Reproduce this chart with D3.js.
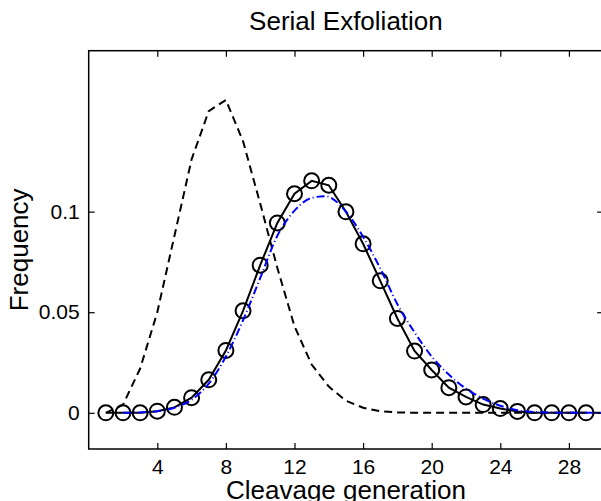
<!DOCTYPE html>
<html>
<head>
<meta charset="utf-8">
<script src="https://cdn.jsdelivr.net/npm/d3@7"></script>
<style>
  body { margin: 0; background: #fff; }
  svg { display: block; }
  text { font-family: "Liberation Sans", Arial, Helvetica, sans-serif; fill: #000; }
</style>
</head>
<body>
<svg id="chart" width="601" height="501"></svg>
<script>
// generations with a measured frequency (circles, solid line)
const generations = d3.range(1, 30);
const serialFreq = [0, 0, 0, 0.0008, 0.0027, 0.0075, 0.0164, 0.031, 0.0507, 0.0734,
                    0.0944, 0.1089, 0.1153, 0.1131, 0.0999, 0.084, 0.0656, 0.0469, 0.0307, 0.0213,
                    0.0125, 0.0079, 0.0041, 0.0021, 0.0007, 0, 0, 0, 0];

// dashed black curve
const dashedGen = d3.range(1, 31);
const dashedFreq = [0, 0.004, 0.022, 0.05, 0.088, 0.126, 0.15, 0.1555, 0.135, 0.104,
                    0.072, 0.043, 0.024, 0.013, 0.006, 0.0025, 0.0008, 0.0002, 0, 0,
                    0, 0, 0, 0, 0, 0, 0, 0, 0, 0];

// blue dash-dot fit
const fitGen =  [2, 3, 4, 5, 6, 7, 8, 9, 10, 11, 12, 13, 13.8, 15, 16, 17, 18, 19, 20,
                 21, 22, 23, 24, 25, 26, 27, 28, 30];
const fitFreq = [0, 0.0002, 0.0008, 0.0025, 0.0065, 0.0145, 0.028, 0.046, 0.067, 0.088,
                 0.1005, 0.1068, 0.1077, 0.1, 0.0875, 0.0718, 0.054, 0.04, 0.028,
                 0.019, 0.012, 0.007, 0.0035, 0.0013, 0.0004, 0.0001, 0, 0];

const xTicks = [4, 8, 12, 16, 20, 24, 28];
const yTicks = [0, 0.05, 0.1];

const svg = d3.select("#chart");
const plotLeft = 88.7, plotRight = 603.2, plotTop = 50.7, plotBottom = 449;

const x = d3.scaleLinear().domain([0, 30]).range([plotLeft, plotRight]);
const y = d3.scaleLinear().domain([-0.018, 0.18]).range([plotBottom, plotTop]);

// ticks point inward on all four sides, like matlab
const styleAxis = (g) => {
    g.select(".domain").remove();
    g.selectAll(".tick line").attr("stroke", "#000").attr("stroke-width", 1.2);
    g.selectAll(".tick text").style("font-size", "21px");
};

svg.append("g").attr("transform", `translate(0,${plotBottom})`)
    .call(d3.axisBottom(x).tickValues(xTicks).tickFormat(d3.format("d")).tickSizeInner(-6).tickSizeOuter(0).tickPadding(10))
    .call(styleAxis);
svg.append("g").attr("transform", `translate(0,${plotTop})`)
    .call(d3.axisTop(x).tickValues(xTicks).tickFormat("").tickSizeInner(-6).tickSizeOuter(0))
    .call(styleAxis);
svg.append("g").attr("transform", `translate(${plotLeft},0)`)
    .call(d3.axisLeft(y).tickValues(yTicks).tickFormat(d => d === 0 ? "0" : String(d)).tickSizeInner(-6).tickSizeOuter(0).tickPadding(9))
    .call(styleAxis);
svg.append("g").attr("transform", `translate(${plotRight},0)`)
    .call(d3.axisRight(y).tickValues(yTicks).tickFormat("").tickSizeInner(-6).tickSizeOuter(0))
    .call(styleAxis);

svg.append("rect")
    .attr("x", plotLeft).attr("y", plotTop)
    .attr("width", plotRight - plotLeft).attr("height", plotBottom - plotTop)
    .attr("fill", "none").attr("stroke", "#000").attr("stroke-width", 1.5);

const plot = svg.append("g");

const line = d3.line().x(d => x(d[0])).y(d => y(d[1]));

plot.append("path")
    .datum(d3.zip(dashedGen, dashedFreq))
    .attr("d", line)
    .attr("fill", "none").attr("stroke", "#000").attr("stroke-width", 2)
    .attr("stroke-dasharray", "8,5");

plot.append("path")
    .datum(d3.zip(generations, serialFreq))
    .attr("d", line)
    .attr("fill", "none").attr("stroke", "#000").attr("stroke-width", 2);

plot.selectAll("circle")
    .data(d3.zip(generations, serialFreq))
    .join("circle")
    .attr("cx", d => x(d[0])).attr("cy", d => y(d[1]))
    .attr("r", 7.5)
    .attr("fill", "none").attr("stroke", "#000").attr("stroke-width", 2);

plot.append("path")
    .datum(d3.zip(fitGen, fitFreq))
    .attr("d", line.curve(d3.curveMonotoneX))
    .attr("fill", "none").attr("stroke", "#0000ff").attr("stroke-width", 2)
    .attr("stroke-dasharray", "8,3,1,3");

// texts
svg.append("text")
    .attr("x", (plotLeft + plotRight) / 2).attr("y", 30)
    .attr("text-anchor", "middle").style("font-size", "26px")
    .text("Serial Exfoliation");

svg.append("text")
    .attr("x", (plotLeft + plotRight) / 2).attr("y", 499)
    .attr("text-anchor", "middle").style("font-size", "26px")
    .text("Cleavage generation");

svg.append("text")
    .attr("transform", `translate(28,${(plotTop + plotBottom) / 2}) rotate(-90)`)
    .attr("text-anchor", "middle").style("font-size", "26px")
    .text("Frequency");
</script>
</body>
</html>
